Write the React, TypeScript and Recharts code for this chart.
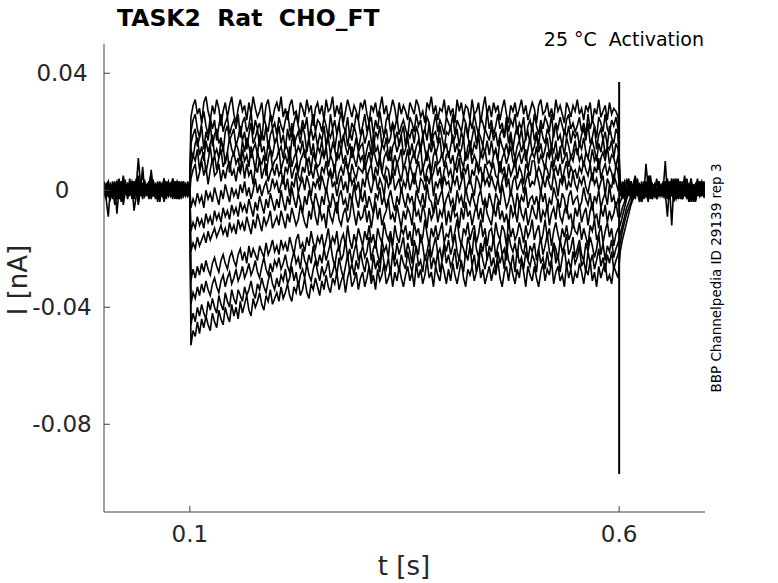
import { LineChart, Line, XAxis, YAxis } from "recharts";

// Whole-cell current traces, one per voltage step. Values in pA (1e-3 nA).
const W = 778;
const H = 583;
const SAMPLE_STEP = 0.0025; // s
const PULSE_ON = 0.1;
const PULSE_OFF = 0.6;

const X_TICKS = [0.1, 0.6];
const Y_TICKS = [-80, -40, 0, 40];

const INK = "#262626";
const AXIS = "#404040";
const FONT = "DejaVu Sans, sans-serif";

// holding level before the step, 0 – 0.1 s
const BASELINE = [
  [1, -3, 2, -1, 3, -2, 0, 4, -4, 1, 3, -1, 2, 0, -2, 4, -1, 1, -3, 2, 0, -2, 3, -1, 1, -4, 2, 0, 3, -2, 1, -1, 4, -3, 0, 2, -1, 3, -2, 1, 0],
  [-2, 1, 3, -1, 0, 2, -3, 1, -1, 4, 0, -2, 3, 1, -1, 2, -4, 0, 8, -1, 1, 3, -2, 0, 2, -1, -3, 1, 4, 0, -2, 1, 3, -1, 0, -3, 2, 1, -2, 0, 1],
  [3, -2, 0, 1, -3, 2, -1, 0, 3, -2, 1, -1, 4, -3, 0, 2, -1, 3, 5, 1, -1, 2, 6, -2, 0, 3, -1, 1, -3, 2, 0, -2, 4, 1, -1, 3, -2, 0, 2, -1, 1],
  [0, 2, -1, -3, 1, 3, -8, 0, 1, -1, 2, -3, 1, 0, 3, -1, -2, 2, 0, -1, 2, -2, 1, 3, -1, 0, -4, 2, 1, -2, 3, 0, -1, 2, -3, 1, 0, 2, -1, -2, 1],
  [-1, 0, 3, -2, 2, -1, 1, -3, 0, 2, 1, -2, 0, 3, -1, 1, 11, 2, -2, 1, -1, 0, 4, -2, 2, -3, 1, 0, -1, 3, -2, 1, 2, -1, 0, -3, 2, 1, -1, 3, 0],
  [2, -1, 1, 0, -2, 1, 3, -1, 0, -2, 2, 0, 1, -1, 2, 0, -5, 1, 2, -2, 0, 3, -1, 1, -3, 2, 0, -1, 4, -2, 1, 0, -3, 2, 1, -1, 3, -2, 0, 1, -1],
  [-1, 2, 0, -2, 1, -1, 3, 0, -2, 1, 0, 2, -1, 1, -3, 2, 0, -1, 1, 3, -1, 0, 7, -2, 1, -1, 2, 0, -3, 1, 3, -1, 0, 2, -2, 1, -1, 3, 0, -2, 1],
  [0, -2, 1, 2, -1, 0, -3, 1, 2, -1, 0, 1, -2, 2, 0, -1, 5, -2, 1, 0, -1, 2, -3, 1, 0, 2, -1, -2, 3, 0, 1, -2, 0, 2, -1, 1, -3, 0, 2, -1, 0],
  [1, 0, -2, 1, -1, 2, 0, -1, 3, -2, 1, 0, -1, 2, -7, -2, 0, 1, -1, 2, 0, -3, 1, 2, -1, 0, 3, -2, 1, -1, 0, 2, -2, 1, 3, -1, 0, -2, 1, 2, -1],
  [-2, 1, 0, -1, 2, -5, 1, 0, 2, -1, 0, -2, 1, 3, -1, 0, 2, -1, 0, 1, -2, 3, 0, -1, 2, -2, 1, 0, -3, 2, 1, -1, 0, 3, -2, 1, -1, 2, 0, -1, 1],
  [2, -1, 0, 1, -2, 0, -1, 2, 1, -5, 0, 1, -1, 2, -2, 1, 0, -1, 2, 0, 1, -2, 3, 0, -1, 1, -3, 2, 0, 1, -1, 2, -2, 0, 3, -1, 1, -2, 0, 2, -1],
  [0, 1, -2, 2, 0, -1, 1, -2, 0, 5, -1, 0, 2, -1, 1, 0, -2, 1, -1, 0, 2, -1, 0, 3, -2, 1, -1, 2, 0, -3, 1, 0, 2, -1, -2, 3, 0, 1, -1, 2, 0],
  [-1, -3, -9, 1, -2, 0, 2, -1, -3, 1, 0, 2, -1, 1, 3, -2, 0, 1, -1, 2, -1, 0, 3, -2, 1, -1, 2, 0, -4, 1, 0, 2, -1, 3, -2, 0, 1, -1, 2, 0, -1],
];

// during the step, 0.1 – 0.6 s
const STEP = [
  [
    25, 29, 31, 26, 28, 23, 30, 32, 27, 24, 29, 26, 31, 28, 22, 27, 30, 25, 29, 32,
    26, 23, 28, 31, 27, 29, 24, 30, 26, 32, 28, 25, 27, 30, 23, 29, 31, 26, 24, 28,
    30, 27, 32, 25, 28, 24, 29, 31, 26, 27, 23, 30, 28, 25, 31, 27, 29, 22, 28, 30,
    26, 29, 24, 31, 27, 28, 32, 25, 29, 26, 30, 23, 27, 31, 28, 25, 29, 27, 24, 30,
    28, 31, 26, 23, 29, 27, 30, 25, 28, 32, 26, 29, 24, 27, 31, 28, 23, 30, 26, 29,
    27, 24, 30, 28, 26, 31, 29, 25, 27, 23, 30, 28, 32, 26, 29, 24, 28, 27, 31, 25,
    29, 26, 28, 23, 31, 27, 30, 25, 29, 28, 24, 31, 26, 27, 30, 23, 28, 32, 26, 29,
    25, 30, 27, 29, 24, 28, 31, 26, 23, 29, 27, 30, 25, 28, 31, 26, 29, 24, 27, 30,
    28, 23, 29, 31, 26, 27, 30, 25, 28, 24, 31, 27, 29, 26, 23, 30, 28, 25, 29, 27,
    31, 26, 28, 24, 29, 27, 30, 23, 28, 26, 31, 25, 27, 29, 24, 30, 26, 28, 27, 25,
  ],
  [
    20, 24, 26, 21, 18, 23, 27, 22, 19, 25, 21, 24, 17, 22, 26, 20, 23, 25, 19, 22,
    24, 21, 26, 18, 23, 25, 20, 22, 27, 19, 24, 21, 23, 17, 25, 22, 20, 26, 21, 23,
    19, 25, 22, 20, 24, 27, 21, 18, 23, 26, 22, 19, 24, 21, 25, 17, 22, 26, 20, 24,
    23, 20, 25, 22, 18, 26, 21, 24, 19, 23, 27, 22, 20, 25, 18, 23, 21, 26, 24, 19,
    22, 26, 20, 23, 25, 19, 24, 21, 27, 22, 18, 24, 26, 20, 23, 21, 25, 19, 22, 24,
    21, 18, 25, 23, 20, 26, 22, 24, 19, 21, 25, 23, 17, 22, 26, 20, 24, 22, 19, 25,
    23, 21, 26, 19, 24, 22, 20, 25, 23, 18, 24, 21, 26, 22, 19, 25, 23, 20, 27, 21,
    24, 19, 22, 26, 21, 23, 18, 25, 20, 24, 22, 26, 19, 23, 21, 25, 17, 22, 24, 20,
    26, 22, 19, 24, 21, 25, 23, 20, 26, 18, 23, 21, 25, 22, 19, 24, 26, 21, 23, 20,
    22, 25, 20, 23, 19, 26, 21, 24, 22, 18, 25, 23, 20, 26, 21, 19, 24, 22, 25, 21,
  ],
  [
    16, 19, 21, 15, 18, 22, 14, 20, 17, 23, 15, 19, 21, 16, 18, 13, 20, 22, 17, 19,
    21, 15, 18, 22, 17, 20, 14, 19, 23, 16, 18, 21, 15, 20, 17, 22, 14, 19, 21, 16,
    18, 22, 16, 19, 14, 21, 17, 23, 15, 18, 20, 16, 22, 19, 13, 18, 21, 17, 20, 15,
    19, 17, 22, 15, 20, 18, 21, 14, 19, 23, 16, 18, 21, 15, 20, 17, 22, 19, 14, 18,
    21, 16, 19, 23, 17, 14, 20, 18, 22, 15, 19, 21, 16, 18, 23, 17, 20, 15, 19, 22,
    15, 20, 18, 21, 16, 22, 19, 14, 18, 21, 17, 23, 15, 19, 20, 16, 22, 18, 14, 20,
    19, 22, 16, 18, 21, 15, 20, 17, 23, 19, 14, 18, 22, 16, 20, 18, 15, 21, 19, 17,
    22, 17, 20, 15, 19, 21, 18, 23, 16, 20, 14, 19, 22, 17, 21, 15, 18, 20, 16, 23,
    17, 20, 15, 22, 18, 16, 21, 19, 14, 20, 23, 17, 19, 15, 21, 18, 22, 16, 20, 18,
    20, 15, 19, 21, 17, 23, 16, 18, 22, 14, 19, 21, 17, 20, 15, 22, 18, 16, 21, 19,
  ],
  [
    14, 11, 16, 18, 12, 15, 10, 17, 13, 16, 19, 12, 14, 11, 17, 15, 9, 13, 18, 14,
    12, 16, 14, 10, 17, 13, 18, 15, 11, 14, 16, 12, 19, 13, 15, 10, 17, 14, 12, 16,
    18, 13, 15, 11, 16, 14, 10, 17, 19, 12, 15, 13, 17, 11, 14, 18, 12, 16, 10, 15,
    13, 17, 11, 15, 18, 12, 16, 14, 10, 17, 13, 19, 15, 12, 16, 11, 14, 18, 13, 15,
    16, 10, 14, 17, 12, 19, 13, 15, 11, 16, 14, 18, 12, 10, 15, 17, 13, 16, 19, 12,
    14, 18, 12, 16, 11, 15, 17, 13, 19, 14, 10, 16, 13, 17, 12, 15, 18, 11, 14, 16,
    11, 15, 19, 13, 16, 12, 14, 18, 10, 15, 17, 12, 16, 14, 19, 11, 15, 13, 17, 12,
    17, 12, 14, 10, 18, 15, 13, 16, 12, 19, 14, 11, 15, 17, 13, 16, 10, 14, 18, 13,
    15, 19, 13, 16, 11, 14, 18, 12, 15, 13, 17, 10, 14, 16, 12, 18, 15, 11, 13, 17,
    12, 16, 14, 18, 13, 11, 15, 17, 14, 10, 16, 13, 18, 12, 15, 14, 17, 11, 16, 14,
  ],
  [
    8, 12, 10, 14, 7, 11, 13, 6, 10, 15, 9, 12, 7, 11, 14, 8, 10, 13, 6, 11,
    13, 9, 11, 6, 14, 10, 12, 8, 15, 11, 7, 13, 10, 9, 12, 5, 11, 14, 8, 10,
    11, 14, 7, 10, 12, 9, 15, 8, 11, 13, 6, 10, 12, 14, 9, 11, 7, 13, 10, 8,
    9, 13, 11, 15, 8, 12, 10, 6, 13, 11, 14, 9, 12, 7, 10, 15, 11, 8, 13, 10,
    12, 7, 10, 13, 9, 14, 11, 8, 12, 6, 11, 13, 10, 15, 8, 12, 9, 11, 14, 7,
    10, 14, 8, 11, 13, 9, 12, 15, 7, 10, 13, 11, 6, 12, 14, 9, 10, 13, 8, 12,
    13, 9, 12, 7, 11, 14, 10, 8, 13, 11, 15, 9, 12, 10, 7, 13, 11, 14, 9, 10,
    8, 12, 14, 10, 6, 11, 13, 9, 12, 15, 10, 8, 11, 13, 9, 12, 14, 7, 11, 13,
    11, 15, 9, 12, 10, 7, 13, 11, 14, 8, 12, 10, 15, 9, 11, 13, 8, 12, 10, 14,
    14, 10, 12, 8, 13, 11, 9, 14, 10, 12, 7, 11, 13, 10, 15, 9, 12, 11, 8, 12,
  ],
  [
    4, 7, 9, 3, 6, 10, 5, 8, 2, 7, 11, 5, 6, 9, 3, 7, 4, 8, 10, 5,
    7, 3, 8, 6, 10, 4, 9, 5, 7, 2, 8, 6, 11, 4, 7, 9, 3, 6, 8, 5,
    9, 5, 7, 2, 8, 6, 10, 4, 7, 9, 5, 3, 8, 6, 11, 5, 7, 4, 9, 6,
    3, 8, 6, 10, 5, 7, 4, 9, 2, 6, 8, 5, 10, 7, 3, 9, 6, 4, 8, 7,
    6, 10, 4, 7, 9, 3, 8, 5, 11, 6, 4, 8, 7, 2, 9, 5, 10, 6, 3, 8,
    8, 4, 9, 6, 2, 7, 10, 5, 8, 3, 7, 9, 4, 6, 10, 5, 8, 2, 7, 9,
    5, 7, 3, 9, 6, 11, 4, 8, 6, 9, 2, 7, 5, 10, 6, 8, 3, 9, 7, 4,
    7, 9, 5, 4, 10, 6, 8, 3, 9, 5, 7, 11, 4, 8, 6, 2, 9, 7, 5, 10,
    10, 5, 8, 6, 3, 9, 7, 4, 10, 6, 8, 5, 9, 3, 7, 10, 4, 8, 6, 7,
    4, 8, 6, 10, 7, 5, 9, 3, 8, 6, 11, 4, 7, 9, 5, 8, 6, 2, 9, 6,
  ],
  [
    -6, -3, -5, -1, -4, -2, -6, 0, -3, -1, -4, 1, -2, -5, 0, -3, 2, -1, -4, 1,
    -2, 0, -3, 2, -1, 3, -2, 1, -3, 0, 4, -1, 2, -2, 1, 3, -1, 0, 4, 1,
    3, -1, 2, 5, 0, 4, -2, 3, 1, 6, -1, 2, 4, 0, 5, 2, -2, 3, 1, 4,
    0, 5, 2, -1, 4, 6, 1, 3, -2, 2, 5, 0, 3, -1, 6, 2, 4, 0, 3, -2,
    4, 1, 6, 2, -1, 3, 5, 0, 4, 2, -2, 5, 1, 3, 6, 0, 2, 4, -1, 3,
    1, 5, 0, 3, 6, 2, -1, 4, 3, 0, 5, 2, 6, -2, 3, 1, 4, 0, 5, 2,
    3, -1, 4, 2, 5, 0, 3, 6, -1, 2, 4, 1, -2, 5, 3, 0, 6, 2, 4, 1,
    5, 2, 0, 4, -1, 3, 6, 1, 4, -2, 3, 5, 0, 2, 4, -1, 3, 6, 1, 3,
    2, 6, 3, -1, 4, 1, 5, 2, 0, 6, 3, -2, 4, 2, 5, 0, 3, 1, 6, 2,
    0, 4, 2, 5, 1, -1, 3, 6, 2, 4, 0, 3, 5, -2, 4, 2, 1, 5, 3, 0,
  ],
  [
    -14, -11, -13, -9, -12, -10, -13, -8, -11, -9, -12, -7, -10, -8, -11, -6, -9, -7, -10, -5,
    -8, -6, -9, -4, -7, -5, -8, -3, -6, -9, -4, -7, -2, -5, -8, -3, -6, -1, -4, -7,
    -3, -6, 0, -4, -7, -2, -5, 1, -3, -6, -1, -4, -8, -2, -5, 0, -3, -6, -1, -4,
    -7, -2, -5, 1, -3, -6, -1, -4, -8, -2, 0, -5, -3, -7, -1, -4, 2, -3, -6, -1,
    -4, 0, -6, -2, -5, -8, -1, -3, 1, -5, -2, -6, -3, 0, -4, -7, -2, -5, 1, -3,
    -6, -1, -4, -2, -7, 0, -3, -5, -1, -6, 2, -3, -4, -8, -1, -5, -2, 0, -6, -3,
    -1, -5, -3, -7, 0, -4, -2, -6, 1, -3, -5, -1, -4, -7, -2, 0, -5, -3, -6, -1,
    -4, -7, -1, -3, -5, 2, -2, -6, -4, 0, -3, -7, -1, -5, -2, -4, 1, -6, -3, -2,
    -5, -2, -6, 0, -4, -1, -7, -3, -5, 1, -2, -4, -6, -1, -3, -8, -2, 0, -5, -3,
    -2, -6, -4, 1, -3, -5, -1, -7, -2, -4, 0, -6, -3, -1, -5, 2, -4, -2, -6, -3,
  ],
  [
    -21, -18, -20, -16, -19, -17, -15, -18, -14, -17, -15, -13, -16, -14, -12, -15, -13, -16, -11, -14,
    -12, -15, -10, -13, -11, -14, -9, -12, -15, -10, -13, -8, -11, -14, -9, -12, -10, -7, -13, -11,
    -9, -12, -7, -10, -13, -8, -11, -6, -9, -12, -10, -5, -8, -11, -13, -7, -10, -4, -9, -12,
    -6, -10, -8, -13, -5, -9, -11, -7, -4, -10, -12, -8, -6, -11, -9, -3, -8, -12, -7, -10,
    -9, -5, -11, -7, -13, -8, -4, -10, -6, -12, -9, -7, -3, -10, -8, -11, -5, -9, -13, -7,
    -10, -6, -8, -12, -4, -9, -7, -11, -5, -8, -13, -6, -10, -8, -4, -11, -7, -9, -5, -12,
    -7, -11, -5, -9, -8, -13, -6, -10, -4, -9, -7, -12, -8, -5, -10, -6, -11, -3, -8, -10,
    -12, -6, -9, -4, -10, -7, -11, -8, -13, -5, -9, -7, -11, -4, -8, -10, -6, -12, -9, -5,
    -8, -10, -4, -11, -7, -9, -5, -12, -8, -6, -10, -3, -9, -11, -7, -5, -10, -8, -13, -6,
    -9, -5, -11, -8, -6, -12, -7, -4, -10, -8, -13, -6, -9, -5, -11, -7, -10, -8, -4, -9,
  ],
  [
    -31, -27, -30, -26, -29, -25, -28, -24, -27, -29, -25, -23, -26, -28, -24, -22, -25, -27, -23, -21,
    -24, -26, -22, -20, -24, -21, -25, -19, -23, -20, -22, -24, -19, -21, -23, -18, -22, -20, -17, -21,
    -19, -22, -17, -20, -18, -21, -16, -19, -22, -17, -15, -20, -18, -21, -16, -19, -14, -18, -20, -16,
    -18, -15, -20, -17, -13, -19, -16, -18, -14, -21, -17, -15, -19, -12, -17, -20, -15, -18, -13, -16,
    -19, -14, -17, -12, -18, -15, -20, -13, -16, -18, -11, -15, -17, -14, -19, -12, -16, -18, -13, -15,
    -12, -17, -14, -19, -11, -15, -13, -18, -16, -10, -15, -19, -13, -16, -12, -17, -14, -11, -18, -15,
    -16, -12, -18, -14, -10, -16, -19, -13, -15, -11, -17, -14, -12, -18, -15, -10, -16, -13, -19, -14,
    -13, -18, -11, -15, -17, -12, -14, -19, -10, -16, -13, -17, -15, -11, -14, -18, -12, -16, -14, -10,
    -17, -14, -12, -18, -15, -10, -16, -13, -19, -14, -11, -15, -18, -13, -16, -12, -17, -15, -11, -14,
    -15, -11, -17, -13, -16, -19, -12, -14, -10, -17, -15, -12, -18, -14, -11, -16, -13, -19, -15, -13,
  ],
  [
    -39, -35, -37, -33, -36, -32, -35, -31, -34, -36, -32, -30, -33, -35, -31, -29, -33, -30, -28, -32,
    -30, -27, -31, -29, -26, -30, -28, -25, -29, -27, -24, -28, -30, -26, -23, -27, -29, -25, -28, -24,
    -26, -23, -27, -25, -22, -26, -28, -24, -21, -25, -23, -27, -20, -24, -26, -22, -25, -19, -23, -26,
    -22, -25, -20, -24, -21, -18, -23, -26, -21, -19, -24, -22, -17, -23, -20, -25, -21, -18, -24, -22,
    -19, -23, -21, -16, -24, -20, -18, -22, -25, -17, -21, -19, -23, -15, -20, -24, -18, -22, -19, -16,
    -23, -18, -21, -25, -17, -20, -22, -15, -19, -24, -21, -17, -23, -19, -16, -22, -20, -24, -18, -21,
    -17, -22, -19, -15, -21, -24, -18, -20, -23, -16, -19, -22, -14, -20, -23, -18, -21, -16, -24, -19,
    -21, -16, -23, -19, -17, -22, -20, -24, -15, -19, -21, -18, -23, -16, -20, -22, -17, -24, -19, -21,
    -18, -24, -20, -16, -22, -19, -15, -21, -23, -18, -20, -24, -17, -21, -19, -15, -22, -20, -16, -23,
    -20, -17, -22, -24, -18, -21, -16, -19, -23, -20, -15, -22, -18, -24, -19, -21, -17, -23, -20, -18,
  ],
  [
    -46, -42, -45, -40, -43, -39, -42, -44, -38, -41, -37, -40, -42, -36, -39, -41, -35, -38, -40, -34,
    -37, -39, -34, -36, -38, -33, -36, -34, -31, -35, -37, -32, -34, -30, -33, -35, -31, -28, -32, -34,
    -30, -33, -29, -31, -27, -32, -30, -26, -31, -28, -33, -29, -27, -30, -25, -29, -31, -27, -24, -28,
    -31, -26, -29, -27, -24, -30, -28, -25, -29, -23, -27, -30, -26, -22, -28, -25, -29, -24, -27, -21,
    -25, -28, -23, -26, -30, -22, -27, -24, -28, -20, -25, -27, -23, -29, -21, -26, -24, -28, -22, -25,
    -27, -21, -25, -28, -23, -19, -26, -24, -28, -22, -25, -20, -27, -23, -26, -21, -28, -24, -19, -25,
    -22, -26, -24, -20, -27, -23, -25, -28, -21, -24, -19, -26, -22, -28, -25, -20, -24, -27, -23, -21,
    -26, -23, -28, -21, -25, -22, -27, -19, -24, -26, -22, -28, -20, -25, -23, -27, -21, -24, -26, -22,
    -24, -28, -20, -25, -23, -27, -21, -26, -24, -18, -25, -22, -28, -23, -20, -26, -24, -27, -21, -25,
    -23, -19, -26, -24, -28, -21, -25, -22, -27, -24, -20, -26, -23, -28, -22, -25, -21, -27, -24, -22,
  ],
  [
    -53, -48, -50, -45, -49, -44, -47, -43, -46, -48, -42, -45, -47, -41, -44, -46, -40, -43, -45, -39,
    -43, -40, -44, -38, -42, -39, -36, -41, -43, -37, -40, -38, -35, -39, -41, -36, -38, -34, -39, -37,
    -35, -38, -33, -37, -35, -32, -36, -38, -33, -35, -31, -36, -34, -30, -35, -37, -32, -34, -30, -33,
    -36, -31, -34, -29, -33, -35, -30, -32, -28, -34, -31, -29, -35, -30, -27, -33, -31, -28, -34, -30,
    -28, -33, -30, -26, -32, -29, -34, -27, -31, -29, -25, -32, -30, -27, -33, -28, -31, -26, -30, -33,
    -29, -26, -31, -28, -33, -25, -30, -27, -32, -29, -24, -30, -28, -33, -26, -29, -31, -25, -28, -32,
    -27, -31, -25, -29, -32, -28, -24, -30, -33, -27, -29, -26, -31, -28, -23, -30, -27, -32, -29, -26,
    -31, -27, -29, -24, -30, -33, -28, -26, -31, -25, -29, -32, -27, -30, -24, -28, -33, -26, -29, -31,
    -26, -30, -33, -28, -25, -31, -27, -29, -24, -32, -28, -26, -31, -29, -33, -25, -30, -27, -32, -28,
    -30, -25, -28, -32, -27, -29, -24, -31, -28, -33, -26, -30, -27, -25, -31, -29, -32, -26, -28, -30,
  ],
];

// after the step, 0.6 – 0.7 s
const TAIL = [
  [-2, 3, -1, 4, 0, -3, 2, 5, -2, 1, -4, 3, 0, -1, 5, -2, 1, -3, 2, 0, 1, -2, 4, -1, 0, 3, -3, 1, 2, -1, 5, -2, 0, 1, -4, 2, 3, -1, 0, -2, 1],
  [2, -1, -3, 1, 4, -2, 0, 3, -1, -4, 2, 1, -2, 5, 0, -3, 2, -1, 3, -2, 1, -1, -9, 2, 0, -3, 4, 1, -2, 0, 3, -1, 2, -4, 1, 0, -2, 3, 1, -1, 0],
  [-1, 2, 0, -3, 3, 1, -2, 4, -1, 0, 2, -3, 1, 3, -2, 0, -1, 4, -2, 1, 0, 10, -2, 1, 3, -1, 0, -3, 2, 1, -2, 4, 0, -1, 2, -3, 1, 0, 3, -2, 1],
  [1, -3, 2, 0, -2, 3, -1, 1, 4, -2, 0, -1, 3, -4, 2, 1, -2, 0, 3, -1, 2, -3, 1, 0, -2, 4, -1, 2, 0, -3, 1, 3, -2, 0, 1, -1, 4, -2, 0, 2, -1],
  [0, 2, -2, 1, -1, 3, 0, -3, 2, -1, 1, 0, -2, 2, 5, -1, 0, -3, 1, 2, -1, 3, 0, -2, 1, -4, 2, 0, 3, -1, 1, -2, 0, 4, -3, 1, 0, 2, -1, -2, 1],
  [-2, 1, 3, -1, 0, 2, -3, 1, -1, 2, 0, -2, 9, 1, -1, -3, 2, 0, 1, -1, 3, -2, 0, 1, 4, -2, -1, 2, 0, -3, 1, 3, -1, 0, 2, -4, 1, 0, -2, 3, 0],
  [1, -2, 2, 0, -1, 3, -2, 0, 1, -3, 2, 1, -1, 0, 3, -2, 1, -1, 2, 0, -2, 1, 3, -1, 0, -2, 2, 1, -3, 0, 4, -1, 1, -2, 0, 2, -1, 3, 0, -2, 1],
  [-4, -2, 1, -1, 2, 0, -2, 1, 3, -1, 0, -2, 2, 1, -1, 0, 2, -2, 1, 0, -1, 2, -3, 1, -12, 2, 0, -1, 3, -2, 1, 0, -3, 2, 1, -1, 0, 2, -2, 1, 0],
  [-9, -6, -4, -2, 0, -2, 1, -1, 2, 0, -3, 1, -1, 2, 0, -2, 1, -1, 3, -1, 0, 2, -2, 1, 0, -3, 2, -1, 1, 3, -2, 0, 1, -1, 2, -4, 0, 1, 3, -1, 0],
  [-12, -9, -6, -3, 0, -1, 2, -2, 1, -1, -4, 0, 2, -1, 1, -2, 0, 3, -1, 1, -2, 0, 2, -3, 1, 0, -1, 4, -2, 1, 0, -3, 2, 1, -1, 0, 3, -2, 0, 1, -1],
  [-15, -12, -9, -6, -4, -2, 0, -1, 2, -3, 1, 0, -2, 1, -1, 2, 0, -2, 1, -1, 1, 3, -2, 0, 2, -1, -3, 1, 0, 2, -1, 1, -4, 2, 0, -1, 3, -2, 1, 0, -1],
  [-18, -14, -11, -8, -6, -4, -1, -2, 1, -1, 3, -2, 0, 1, -3, 2, -1, 0, 1, -2, 0, 2, -1, 3, -2, 0, 1, -1, 2, -3, 1, 0, -2, 4, -1, 1, 0, -2, 2, -1, 0],
  [-21, -17, -14, -11, -8, -5, -3, 0, 2, -1, 1, -2, 0, -3, 1, 2, -1, 0, -2, 1, 0, -1, 2, -3, 1, 0, 3, -2, 1, -1, 0, 2, -4, 1, 0, -1, 3, -2, 0, 2, -1],
];

// capacitive transient at the end of the step
const END_SPIKE = [37, -97];

type Pt = { t: number; v: number };

function buildTrace(k: number): Pt[] {
  const pts: Pt[] = [];
  BASELINE[k].forEach((v, i) => pts.push({ t: i * SAMPLE_STEP, v }));
  STEP[k].forEach((v, i) => pts.push({ t: PULSE_ON + SAMPLE_STEP / 2 + i * SAMPLE_STEP, v }));
  TAIL[k].forEach((v, i) => pts.push({ t: PULSE_OFF + SAMPLE_STEP / 2 + i * SAMPLE_STEP, v }));
  return pts;
}

const traces = BASELINE.map((_, k) => buildTrace(k));
const spike: Pt[] = END_SPIKE.map((v) => ({ t: PULSE_OFF, v }));

function fmtCurrent(v: number): string {
  return v === 0 ? "0" : String(v / 1000);
}

function XTick(props: any) {
  const { x, y, payload } = props;
  return (
    <g>
      <line x1={x} x2={x} y1={y} y2={y - 6} stroke={AXIS} />
      <text x={x} y={y + 30} textAnchor="middle" fontSize={23} fill={INK} fontFamily={FONT}>
        {String(payload.value)}
      </text>
    </g>
  );
}

function YTick(props: any) {
  const { x, y, payload } = props;
  return (
    <g>
      <line x1={x} x2={x + 6} y1={y} y2={y} stroke={AXIS} />
      <text x={62} y={y + 8} textAnchor="middle" fontSize={23} fill={INK} fontFamily={FONT}>
        {fmtCurrent(payload.value)}
      </text>
    </g>
  );
}

export default function App() {
  return (
    <div style={{ position: "relative", width: W, height: H, background: "#fff" }}>
      <style>{"body{margin:0}"}</style>
      <LineChart width={W} height={H} margin={{ top: 44, right: 73, bottom: 41, left: 44 }}>
        <XAxis
          dataKey="t"
          type="number"
          domain={[0, 0.7]}
          allowDataOverflow
          ticks={X_TICKS}
          interval={0}
          height={30}
          tickSize={0}
          tickMargin={0}
          tickLine={false}
          tick={<XTick />}
          axisLine={{ stroke: AXIS }}
        />
        <YAxis
          type="number"
          domain={[-110, 50]}
          allowDataOverflow
          ticks={Y_TICKS}
          interval={0}
          width={60}
          tickSize={0}
          tickMargin={0}
          tickLine={false}
          tick={<YTick />}
          axisLine={{ stroke: AXIS }}
        />
        {traces.map((d, k) => (
          <Line
            key={k}
            data={d}
            dataKey="v"
            type="linear"
            stroke="#000"
            strokeWidth={1.6}
            dot={false}
            activeDot={false}
            isAnimationActive={false}
          />
        ))}
        <Line
          data={spike}
          dataKey="v"
          type="linear"
          stroke="#000"
          strokeWidth={2}
          dot={false}
          activeDot={false}
          isAnimationActive={false}
        />
      </LineChart>
      <svg
        width={W}
        height={H}
        style={{ position: "absolute", left: 0, top: 0, pointerEvents: "none" }}
        fontFamily={FONT}
      >
        <text x={117} y={26} fontSize={23.5} fontWeight="bold" fill="#000" style={{ whiteSpace: "pre" }}>
          {"TASK2  Rat  CHO_FT"}
        </text>
        <text x={704} y={46} fontSize={19} textAnchor="end" fill="#000" style={{ whiteSpace: "pre" }}>
          {"25 °C  Activation"}
        </text>
        <text x={404} y={575} fontSize={26} textAnchor="middle" fill={INK}>
          t [s]
        </text>
        <text transform="translate(27,280) rotate(-90)" fontSize={26} textAnchor="middle" fill={INK}>
          I [nA]
        </text>
        <text transform="translate(721,278) rotate(-90)" fontSize={13.5} textAnchor="middle" fill="#000">
          BBP Channelpedia ID 29139 rep 3
        </text>
      </svg>
    </div>
  );
}
